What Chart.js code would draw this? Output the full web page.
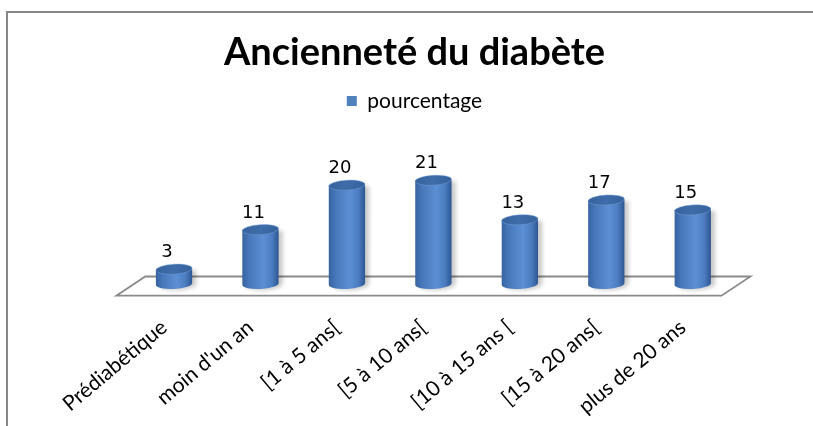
<!DOCTYPE html>
<html>
<head>
<meta charset="utf-8">
<script src="https://cdn.jsdelivr.net/npm/chart.js@4/dist/chart.umd.min.js"></script>
<style>
html,body{margin:0;padding:0;background:#fff;overflow:hidden}
canvas{display:block}
</style>
</head>
<body>
<canvas id="c" width="813" height="426"></canvas>
<script>
// ---- data ----
const chartTitle = "Ancienneté du diabète";
const seriesName = "pourcentage";
const categories = ["Prédiabétique", "moin d'un an", "[1 à 5 ans[", "[5 à 10 ans[", "[10 à 15 ans [", "[15 à 20 ans[", "plus de 20 ans"];
const pourcentage = [3, 11, 20, 21, 13, 17, 15];

// ---- drawing helpers ----
const cylinderPlugin = {
  id: 'cylinders',
  beforeDraw(chart) {
    const c = chart.ctx;
    c.save();
    c.strokeStyle = '#878787';
    c.lineWidth = 2;
    c.beginPath();
    c.moveTo(7, 427);
    c.lineTo(7, 12);
    c.lineTo(814, 12);
    c.stroke();
    c.restore();
  },
  beforeDatasetsDraw(chart) {
    const c = chart.ctx;
    const xs = chart.scales.x, ys = chart.scales.y;
    const zero = ys.getPixelForValue(0);
    const d = 14.5;
    c.save();
    c.strokeStyle = '#8a8a8a';
    c.lineWidth = 1.8;
    c.fillStyle = '#ffffff';
    c.beginPath();
    c.moveTo(xs.left - d, zero + 11.7);
    c.lineTo(xs.left + d, zero - 7.5);
    c.lineTo(xs.right + d, zero - 7.5);
    c.lineTo(xs.right - d, zero + 11.7);
    c.closePath();
    c.fill();
    c.stroke();
    c.restore();
  },
  beforeDatasetDraw() { return false; },
  afterDatasetsDraw(chart) {
    const c = chart.ctx;
    const meta = chart.getDatasetMeta(0);
    const rot = -0.06;
    meta.data.forEach((bar, i) => {
      const p = bar.getProps(['x', 'y', 'base', 'width'], true);
      const x = p.x, top = p.y, base = p.base, rx = p.width / 2, ry = 5;
      c.save();
      const g = c.createLinearGradient(x - rx, 0, x + rx, 0);
      g.addColorStop(0, '#3863a0');
      g.addColorStop(0.18, '#4677b9');
      g.addColorStop(0.58, '#5c8fd4');
      g.addColorStop(0.82, '#4b7cc0');
      g.addColorStop(1, '#2c5690');
      c.beginPath();
      c.moveTo(x - rx, top);
      c.lineTo(x - rx, base);
      c.ellipse(x, base, rx, ry, rot, Math.PI, 0, true);
      c.lineTo(x + rx, top);
      c.closePath();
      c.shadowColor = 'rgba(0,0,0,0.22)';
      c.shadowBlur = 4;
      c.shadowOffsetX = 4;
      c.shadowOffsetY = 1;
      c.fillStyle = g;
      c.fill();
      c.shadowColor = 'transparent';
      const tg = c.createLinearGradient(x - rx, top - ry, x + rx, top + ry);
      tg.addColorStop(0, '#35619c');
      tg.addColorStop(0.5, '#3f6da9');
      tg.addColorStop(1, '#34609b');
      c.beginPath();
      c.ellipse(x, top, rx, ry, rot, 0, Math.PI * 2);
      c.fillStyle = tg;
      c.fill();
      c.strokeStyle = 'rgba(120,160,215,0.6)';
      c.lineWidth = 0.8;
      c.stroke();
      c.restore();
      c.save();
      c.font = '18px "DejaVu Sans"';
      c.fillStyle = '#000';
      c.textAlign = 'center';
      c.textBaseline = 'alphabetic';
      c.fillText(String(pourcentage[i]), x - 7, top - 12);
      c.restore();
    });
  },
  afterDraw(chart) {
    const c = chart.ctx;
    const xs = chart.scales.x, ys = chart.scales.y;
    const zero = ys.getPixelForValue(0);
    const ang = 40 * Math.PI / 180;
    c.save();
    c.font = '21px Lato';
    c.fillStyle = '#000';
    c.textAlign = 'right';
    c.textBaseline = 'middle';
    categories.forEach((lab, i) => {
      const x = xs.getPixelForValue(i);
      c.save();
      c.translate(x - 10, zero + 40.5);
      c.rotate(-ang);
      c.fillText(lab, 0, 0);
      c.restore();
    });
    c.restore();
  }
};

function draw() {
  new Chart(document.getElementById('c').getContext('2d'), {
    type: 'bar',
    data: {
      labels: categories,
      datasets: [{
        label: seriesName,
        data: pourcentage,
        backgroundColor: '#4f81bd',
        borderWidth: 0,
        barPercentage: 0.42,
        categoryPercentage: 1
      }]
    },
    options: {
      responsive: false,
      animation: false,
      layout: { padding: { left: 93, right: 77, top: 0, bottom: 142 } },
      scales: {
        x: { display: false, offset: true },
        y: {
          display: true, min: 0, max: 32.9,
          grid: { display: false }, border: { display: false },
          ticks: { display: false },
          afterFit(s) { s.width = 37.8; }
        }
      },
      plugins: {
        title: {
          display: true, text: chartTitle, color: '#000',
          font: { family: 'Lato', size: 38, weight: 'bold' },
          padding: { top: 30, bottom: 4.9 }
        },
        legend: {
          display: true,
          labels: { color: '#000', font: { family: 'Lato', size: 21 }, boxWidth: 10, boxHeight: 10, padding: 10 }
        },
        tooltip: { enabled: false }
      }
    },
    plugins: [cylinderPlugin]
  });
}

Promise.all([
  document.fonts.load('bold 38px Lato'),
  document.fonts.load('21px Lato'),
  document.fonts.load('18px "DejaVu Sans"')
]).then(draw, draw);
</script>
</body>
</html>
